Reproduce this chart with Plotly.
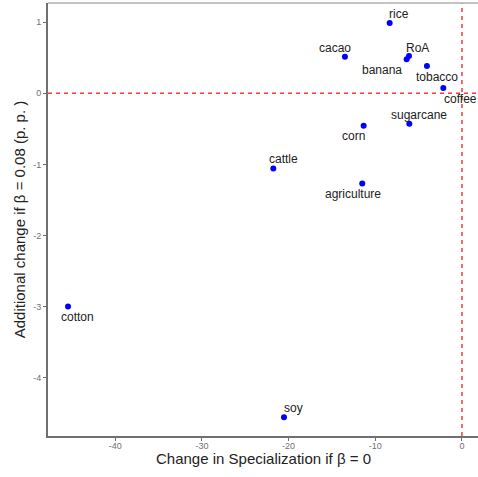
import plotly.graph_objects as go

names = ["rice", "cacao", "RoA", "banana", "tobacco", "coffee", "sugarcane",
         "corn", "cattle", "agriculture", "cotton", "soy"]
x_vals = [-8.34, -13.5, -6.11, -6.38, -4.04, -2.15, -6.07,
          -11.34, -21.76, -11.5, -45.44, -20.53]
y_vals = [0.99, 0.515, 0.525, 0.48, 0.385, 0.075, -0.43,
          -0.456, -1.056, -1.27, -3.0, -4.555]
# label pixel offsets (dx right, dy up)
label_dx = [9, -10, 9, -25, 10, 17, 10, -10, 10, -9, 9, 10]
label_dy = [9, 9, 8, -11, -11, -11, 9, -10, 9, -10, -10, 9]

x_ticks = [-40, -30, -20, -10, 0]
y_ticks = [-4, -3, -2, -1, 0, 1]

fig = go.Figure()
fig.add_trace(go.Scatter(
    x=x_vals, y=y_vals, mode="markers",
    marker=dict(color="#0000FF", size=6),
    hoverinfo="text", text=names, showlegend=False,
))

for n, xv, yv, dx, dy in zip(names, x_vals, y_vals, label_dx, label_dy):
    fig.add_annotation(x=xv, y=yv, text=n, showarrow=False,
                       xshift=dx, yshift=dy,
                       font=dict(family="Liberation Sans, Arial", size=12, color="#222222"))

fig.add_hline(y=0, line=dict(color="#e8413c", width=1.5, dash="4px,4px"))
fig.add_vline(x=0, line=dict(color="#e8413c", width=1.5, dash="4px,4px"))

# top border line
fig.add_shape(type="line", xref="paper", yref="paper", x0=0, x1=1, y0=1, y1=1,
              line=dict(color="#b0b0b0", width=1.5))

# x-axis title as annotation for precise placement
fig.add_annotation(xref="paper", yref="paper", x=0.5, y=-0.052, yanchor="middle",
                   text="Change in Specialization if β = 0", showarrow=False,
                   font=dict(family="Liberation Sans, Arial", size=15, color="#222222"))

fig.update_layout(
    width=478, height=477,
    margin=dict(l=48, r=0, t=3, b=41),
    plot_bgcolor="white", paper_bgcolor="white",
    font=dict(family="Liberation Sans, Arial"),
)
fig.update_xaxes(
    range=[-47.75, 1.85], tickvals=x_ticks, ticktext=[str(v) for v in x_ticks],
    automargin=False, ticklabelstandoff=-3,
    showgrid=False, zeroline=False, showline=True, linecolor="#707070", linewidth=2,
    ticks="outside", ticklen=3, tickcolor="#707070",
    tickfont=dict(size=9, color="#707070"),
)
fig.update_yaxes(
    range=[-4.82, 1.27], tickvals=y_ticks, ticktext=[str(v) for v in y_ticks],
    automargin=False,
    showgrid=False, zeroline=False, showline=True, linecolor="#707070", linewidth=2,
    ticks="outside", ticklen=3, tickcolor="#707070",
    tickfont=dict(size=9, color="#707070"),
    title=dict(text="Additional change if β = 0.08 (p. p. )", font=dict(size=15, color="#222222"), standoff=4),
)

fig.write_html("out.html", config={"displayModeBar": False},
               post_script="document.body.style.margin='0';document.body.style.overflow='hidden';")
